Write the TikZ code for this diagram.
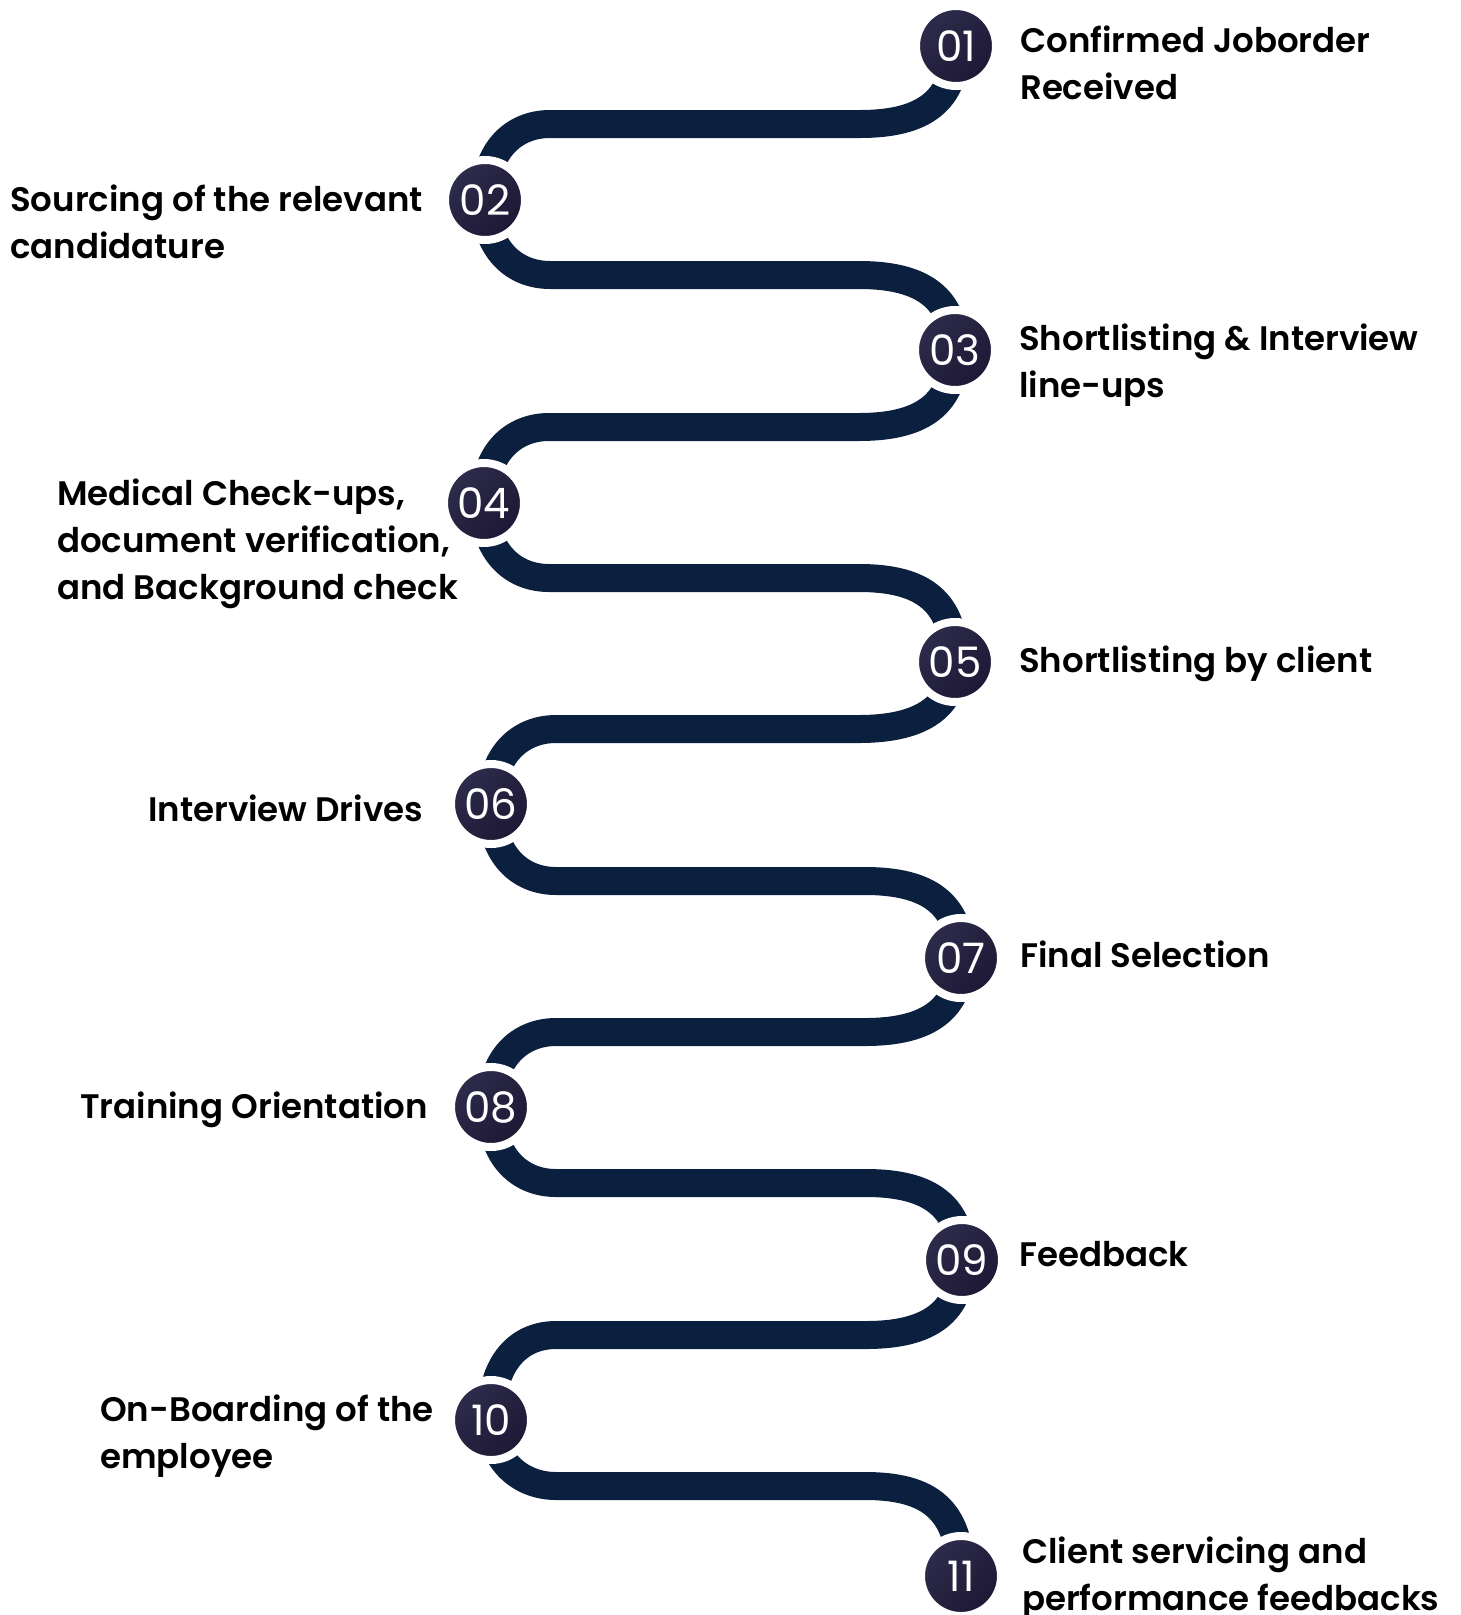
\documentclass[tikz,border=0pt]{standalone}
\usepackage{fontspec}
\setmainfont{Poppins}
\newfontfamily\semibold{Poppins SemiBold}
\usepackage{tikz}
\usetikzlibrary{backgrounds}

\definecolor{bandblue}{HTML}{0B1F3E}
\definecolor{circtop}{HTML}{2E2C4C}
\definecolor{circbot}{HTML}{1C1834}

\begin{document}
\begin{tikzpicture}[x=1pt, y=-1pt,
    band/.style={draw=bandblue, line width=28pt},
    num/.style={circle, minimum size=80pt, inner sep=0pt, draw=white, line width=8pt,
        shading=axis, top color=circtop, bottom color=circbot, shading angle=45,
        text=white, font=\fontsize{42}{42}\selectfont},
    lbl/.style={anchor=base west, inner sep=0pt, align=left, text=black,
        font=\semibold\fontsize{34}{47}\selectfont}]
    \useasboundingbox (0, 0) rectangle (1460, 1615);

    % draw numbered circles
    \node[num] (c1) at (956, 46) {01};
    \node[num] (c2) at (485, 200) {02};
    \node[num] (c3) at (955, 350) {03};
    \node[num] (c4) at (484, 503) {04};
    \node[num] (c5) at (955, 662) {05};
    \node[num] (c6) at (491, 804) {06};
    \node[num] (c7) at (961, 958) {07};
    \node[num] (c8) at (491, 1107) {08};
    \node[num] (c9) at (962, 1260) {09};
    \node[num] (c10) at (491, 1420) {10};
    \node[num] (c11) at (961, 1576) {11};

    % draw winding band
    \begin{scope}[on background layer]
        \draw[band] (c1.center) .. controls (955, 100) and (925, 124) .. (860, 124) -- (550, 124) .. controls (514, 124) and (485, 150) .. (c2.center);
        \draw[band] (c2.center) .. controls (485, 249) and (514, 275) .. (550, 275) -- (859, 275) .. controls (924, 275) and (954, 299) .. (c3.center);
        \draw[band] (c3.center) .. controls (954, 403) and (924, 427) .. (859, 427) -- (549, 427) .. controls (513, 427) and (484, 453) .. (c4.center);
        \draw[band] (c4.center) .. controls (484, 552) and (513, 578) .. (549, 578) -- (859, 578) .. controls (924, 578) and (954, 602) .. (c5.center);
        \draw[band] (c5.center) .. controls (954, 705) and (924, 729) .. (859, 729) -- (556, 729) .. controls (520, 729) and (491, 755) .. (c6.center);
        \draw[band] (c6.center) .. controls (491, 855) and (520, 881) .. (556, 881) -- (865, 881) .. controls (930, 881) and (960, 905) .. (c7.center);
        \draw[band] (c7.center) .. controls (960, 1008) and (930, 1032) .. (865, 1032) -- (556, 1032) .. controls (520, 1032) and (491, 1058) .. (c8.center);
        \draw[band] (c8.center) .. controls (491, 1157) and (520, 1183) .. (556, 1183) -- (866, 1183) .. controls (931, 1183) and (961, 1207) .. (c9.center);
        \draw[band] (c9.center) .. controls (961, 1311) and (931, 1335) .. (866, 1335) -- (556, 1335) .. controls (520, 1335) and (491, 1361) .. (c10.center);
        \draw[band] (c10.center) .. controls (491, 1460) and (520, 1486) .. (556, 1486) -- (865, 1486) .. controls (930, 1486) and (960, 1510) .. (c11.center);
    \end{scope}

    % draw step labels (base is the last line)
    \node[lbl] (l1) at (1020, 99) {Confirmed Joborder\\Received};
    \node[lbl] (l2) at (10, 258) {Sourcing of the relevant\\candidature};
    \node[lbl] (l3) at (1019, 397) {Shortlisting \& Interview\\line-ups};
    \node[lbl] (l4) at (57, 599) {Medical Check-ups,\\document verification,\\and Background check};
    \node[lbl] (l5) at (1019, 672) {Shortlisting by client};
    \node[lbl] (l6) at (148, 821) {Interview Drives};
    \node[lbl] (l7) at (1020, 967) {Final Selection};
    \node[lbl] (l8) at (80, 1118) {Training Orientation};
    \node[lbl] (l9) at (1019, 1266) {Feedback};
    \node[lbl] (l10) at (100, 1468) {On-Boarding of the\\employee};
    \node[lbl] (l11) at (1022, 1610) {Client servicing and\\performance feedbacks};
\end{tikzpicture}
\end{document}
